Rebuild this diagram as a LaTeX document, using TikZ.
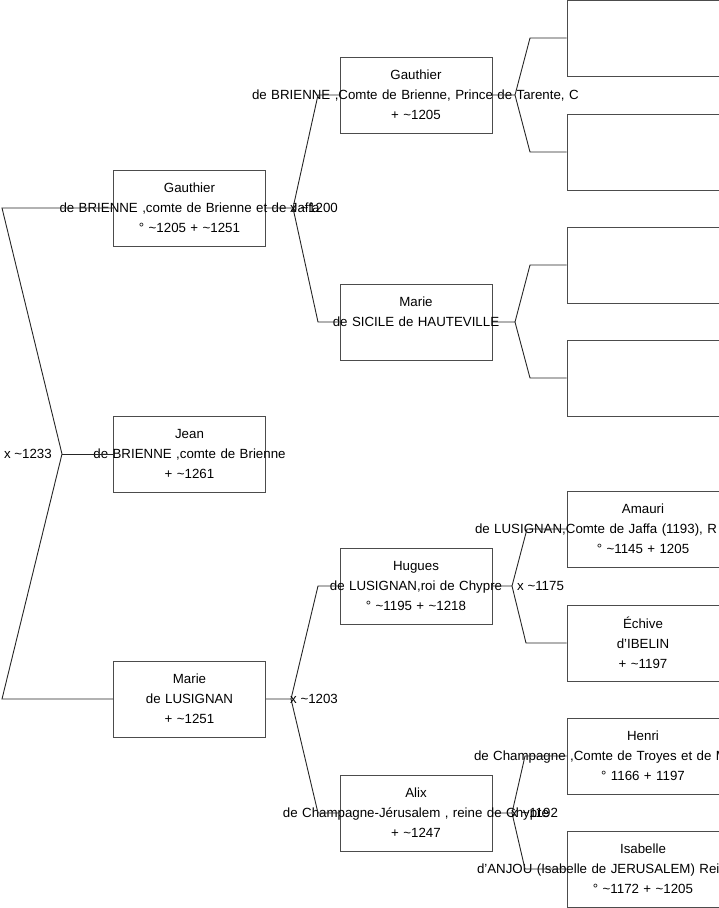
\documentclass[tikz,border=0pt]{standalone}
\usepackage{fontspec}
\setmainfont{Liberation Sans}
\usetikzlibrary{positioning}
\newcommand{\spill}[1]{\makebox[0pt]{#1}}
\newcommand{\cutline}[2]{\makebox[0pt]{\makebox[#1][l]{#2}}}
\newcommand{\ca}{\textasciitilde}

\begin{document}
\begin{tikzpicture}[x=1pt,y=-1pt,
  person/.style={draw=black!70,line width=1pt,minimum width=152pt,minimum height=76pt,
    text width=151pt,inner sep=0pt,align=center,font=\fontsize{13.3}{20}\selectfont},
  link/.style={line width=0.9pt,black!85},
  year/.style={inner sep=0pt,font=\fontsize{13.3}{15}\selectfont}]
\useasboundingbox (0,0) rectangle (719,908);
\clip (0,0) rectangle (719,908);
% children
\node[person] (g1) at (189.5,208) {Gauthier\\\spill{de BRIENNE ,comte de Brienne et de Jaffa}\\° \ca1205 + \ca1251};
\node[person] (j1) at (189.5,454) {Jean\\\spill{de BRIENNE ,comte de Brienne}\\+ \ca1261};
\node[person] (m1) at (189.5,699) {Marie\\de LUSIGNAN\\+ \ca1251};
% parents
\node[person] (g2) at (416,95) {Gauthier\\\cutline{328pt}{de BRIENNE ,Comte de Brienne, Prince de Tarente, C}\\+ \ca1205};
\node[person] (s2) at (416,322) {Marie\\\spill{de SICILE de HAUTEVILLE}\\\mbox{}};
\node[person] (h2) at (416,586) {Hugues\\\spill{de LUSIGNAN,roi de Chypre}\\° \ca1195 + \ca1218};
\node[person] (a2) at (416,813) {Alix\\\spill{de Champagne-Jérusalem , reine de Chypre}\\+ \ca1247};
% grandparents
\node[person] (c1) at (643,38) {};
\node[person] (c2) at (643,152) {};
\node[person] (c3) at (643,265) {};
\node[person] (c4) at (643,378) {};
\node[person] (am3) at (643,529) {Amauri\\\cutline{336pt}{de LUSIGNAN,Comte de Jaffa (1193), R}\\° \ca1145 + 1205};
\node[person] (ec3) at (643,643) {Échive\\d'IBELIN\\+ \ca1197};
\node[person] (he3) at (643,756) {Henri\\\cutline{338pt}{de Champagne ,Comte de Troyes et de M}\\° 1166 + 1197};
\node[person] (is3) at (643,869) {Isabelle\\\cutline{332pt}{d'ANJOU (Isabelle de JERUSALEM) Rei}\\° \ca1172 + \ca1205};
% root fork
\coordinate (ra) at (2,208); \coordinate (rv) at (62,454); \coordinate (rb) at (2,699);
\draw[link] (g1.west) -- (ra) -- (rv) -- (rb) -- (m1.west);
\draw[link] (rv) -- (j1.west);
\node[year,left=10pt of rv] (rx) {x \ca1233};
% forks of the children
\coordinate (gv) at (293,208); \coordinate (ga) at (318,95); \coordinate (gb) at (318,322);
\draw[link] (g1.east) -- (gv) -- (ga) -- (g2.west);
\draw[link] (gv) -- (gb) -- (s2.west);
\node[year,right=-3pt of gv] (gx) {x \ca1200};
\coordinate (mv) at (291,699); \coordinate (ma) at (318,586); \coordinate (mb) at (318,813);
\draw[link] (m1.east) -- (mv) -- (ma) -- (h2.west);
\draw[link] (mv) -- (mb) -- (a2.west);
\node[year,right=-1pt of mv] (mx) {x \ca1203};
% forks of the parents
\coordinate (g2v) at (515,95); \coordinate (g2a) at (530,38); \coordinate (g2b) at (530,152);
\draw[link] (g2.east) -- (g2v) -- (g2a) -- (c1.west);
\draw[link] (g2v) -- (g2b) -- (c2.west);
\coordinate (s2v) at (515,322); \coordinate (s2a) at (530,265); \coordinate (s2b) at (530,378);
\draw[link] (s2.east) -- (s2v) -- (s2a) -- (c3.west);
\draw[link] (s2v) -- (s2b) -- (c4.west);
\coordinate (h2v) at (512,586); \coordinate (h2a) at (527,529); \coordinate (h2b) at (526,643);
\draw[link] (h2.east) -- (h2v) -- (h2a) -- (am3.west);
\draw[link] (h2v) -- (h2b) -- (ec3.west);
\node[year,right=5pt of h2v] (hx) {x \ca1175};
\coordinate (a2v) at (512,813); \coordinate (a2a) at (525,756); \coordinate (a2b) at (525,869);
\draw[link] (a2.east) -- (a2v) -- (a2a) -- (he3.west);
\draw[link] (a2v) -- (a2b) -- (is3.west);
\node[year,right=-1pt of a2v] (ax) {x \ca1192};
\end{tikzpicture}
\end{document}
